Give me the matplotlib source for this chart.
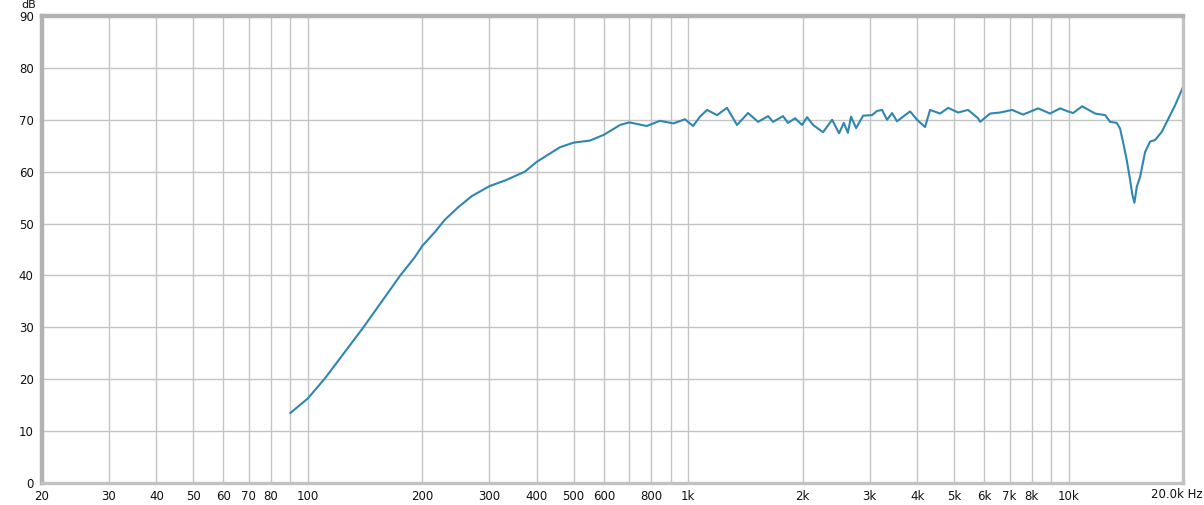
import matplotlib
matplotlib.use("Agg")
import matplotlib.pyplot as plt

# frequency response (Hz, dB)
freq = [90, 100, 111, 140, 175, 191, 200, 216, 229, 249, 270, 300, 330, 372, 400,
        460, 500, 552, 600, 662, 700, 778, 843, 914, 981, 1030, 1074, 1121, 1191,
        1265, 1344, 1437, 1527, 1622, 1672, 1776, 1830, 1910, 1993, 2054, 2130,
        2263, 2390, 2493, 2566, 2630, 2680, 2764, 2884, 3044, 3138, 3234, 3333,
        3436, 3541, 3718, 3832, 3998, 4196, 4325, 4596, 4824, 5124, 5444, 5784,
        5854, 6222, 6608, 7106, 7596, 8318, 8944, 9504, 9976, 10282, 10858, 11748,
        12486, 12864, 13394, 13664, 13940, 14230, 14520, 14724, 14902, 15120,
        15426, 15900, 16388, 16892, 17594, 18134, 19066, 20000]
spl = [13.5, 16.3, 20.2, 30.0, 40.0, 43.5, 45.7, 48.4, 50.7, 53.2, 55.3, 57.2, 58.3,
       60.0, 61.9, 64.7, 65.6, 66.0, 67.1, 69.0, 69.5, 68.8, 69.8, 69.3, 70.1, 68.8,
       70.6, 71.9, 70.9, 72.3, 69.0, 71.3, 69.6, 70.7, 69.6, 70.7, 69.4, 70.3, 69.0,
       70.5, 69.0, 67.6, 70.0, 67.4, 69.4, 67.5, 70.6, 68.4, 70.8, 70.9, 71.7, 71.9,
       70.0, 71.3, 69.7, 70.9, 71.6, 70.0, 68.6, 71.9, 71.2, 72.3, 71.4, 71.9, 70.3,
       69.6, 71.2, 71.4, 71.9, 71.0, 72.2, 71.2, 72.2, 71.6, 71.3, 72.6, 71.2, 70.9,
       69.6, 69.4, 68.3, 65.4, 62.2, 58.4, 55.5, 54.0, 57.1, 59.0, 63.8, 65.8, 66.1,
       67.7, 69.6, 72.8, 76.3]

grid_x = [30, 40, 50, 60, 70, 80, 90, 100, 200, 300, 400, 500, 600, 700, 800, 900,
          1000, 2000, 3000, 4000, 5000, 6000, 7000, 8000, 9000, 10000]
grid_lbl = ['30', '40', '50', '60', '70', '80', '', '100', '200', '300', '400', '500',
            '600', '', '800', '', '1k', '2k', '3k', '4k', '5k', '6k', '7k', '8k', '', '10k']
y_ticks = [0, 10, 20, 30, 40, 50, 60, 70, 80, 90]

fig = plt.figure(figsize=(12.04, 5.05), dpi=100)
ax = fig.add_axes([42 / 1204, 1 - 483 / 505, (1183 - 42) / 1204, (483 - 16) / 505])

ax.plot(freq, spl, color='#2f86b0', linewidth=1.5, solid_joinstyle='round')

ax.set_xscale('log')
ax.set_xlim(20, 20000)
ax.set_ylim(0, 90)
ax.set_xticks([20] + grid_x + [20000])
ax.set_xticklabels(['20'] + grid_lbl + [''])
ax.xaxis.set_minor_locator(matplotlib.ticker.NullLocator())
ax.set_yticks(y_ticks)
ax.set_yticklabels([str(v) for v in y_ticks])
ax.tick_params(length=0, labelsize=8.5, colors='#111111')
ax.tick_params(axis='x', pad=5)
ax.tick_params(axis='y', pad=6)
ax.grid(True, color='#c4c4c4', linewidth=1)
ax.set_axisbelow(True)

for side in ['left', 'top']:
    ax.spines[side].set_color('#b2b2b2')
    ax.spines[side].set_linewidth(3.2)
for side in ['right', 'bottom']:
    ax.spines[side].set_color('#c2c2c2')
    ax.spines[side].set_linewidth(2.4)

# axis unit labels
fig.text(36 / 1204, 1 - 9.5 / 505, 'dB', ha='right', va='bottom', fontsize=8, color='#111111')
fig.text(1203 / 1204, 1 - 494 / 505, '20.0k Hz', ha='right', va='center', fontsize=8.5,
         color='#111111')

fig.savefig('out.png', dpi=100)
